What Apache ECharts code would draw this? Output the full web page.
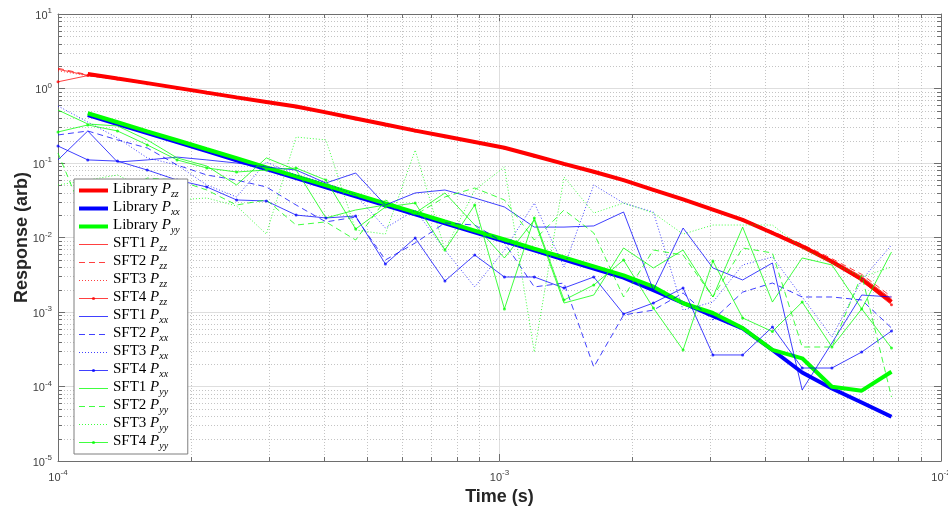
<!DOCTYPE html>
<html>
<head>
<meta charset="utf-8">
<script src="https://cdn.jsdelivr.net/npm/echarts@6/dist/echarts.min.js"></script>
<style>
html, body { margin: 0; padding: 0; background: #fff; }
#chart { width: 948px; height: 506px; }
</style>
</head>
<body>
<div id="chart"></div>
<script>
// sample times (s)
const times = [1.000e-4, 1.168e-4, 1.364e-4, 1.593e-4, 1.861e-4, 2.173e-4, 2.538e-4, 2.964e-4, 3.462e-4, 4.044e-4,
  4.723e-4, 5.515e-4, 6.442e-4, 7.523e-4, 8.788e-4, 1.026e-3, 1.199e-3, 1.400e-3, 1.635e-3, 1.910e-3,
  2.231e-3, 2.605e-3, 3.043e-3, 3.554e-3, 4.151e-3, 4.848e-3, 5.662e-3, 6.613e-3, 7.725e-3]

// library responses
const libZz = [null, 1.57, 1.36, 1.18, 1.02, 0.88, 0.76, 0.66, 0.573, 0.478, 0.396, 0.328, 0.272, 0.228, 0.191, 0.160,
  0.125, 0.0975, 0.0762, 0.0589, 0.0437, 0.0324, 0.0237, 0.0172, 0.0115, 0.0076, 0.00473, 0.00275, 0.00137]
const libXx = [null, 0.441, 0.333, 0.252, 0.191, 0.144, 0.109, 0.0826, 0.0625, 0.0473, 0.0357, 0.0270, 0.0205, 0.0155,
  0.0117, 0.00887, 0.00670, 0.00507, 0.00384, 0.00290, 0.00197, 0.00132, 0.000883, 0.000601, 0.000309, 0.000154,
  0.000094, 0.000061, 0.0000393]
const libYy = [null, 0.465, 0.352, 0.266, 0.202, 0.153, 0.116, 0.0875, 0.0662, 0.0501, 0.0379, 0.0287, 0.0217, 0.0164,
  0.0124, 0.0094, 0.0071, 0.0054, 0.0041, 0.0031, 0.00219, 0.00131, 0.00097, 0.00061, 0.00031, 0.000239,
  0.0000993, 0.0000879, 0.000158]

// SFT Pzz
const sft1Zz = [1.81, 1.50, 1.33, 1.16, 1.00, 0.87, 0.75, 0.65, 0.565, 0.472, 0.392, 0.325, 0.269, 0.226, 0.189, 0.158,
  0.124, 0.0968, 0.0757, 0.0585, 0.0436, 0.0325, 0.0240, 0.0176, 0.0119, 0.0079, 0.0050, 0.0030, 0.00150]
const sft2Zz = [1.87, 1.53, 1.35, 1.17, 1.01, 0.875, 0.755, 0.655, 0.568, 0.475, 0.393, 0.326, 0.270, 0.226, 0.190, 0.159,
  0.124, 0.0970, 0.0760, 0.0588, 0.0438, 0.0327, 0.0242, 0.0178, 0.0121, 0.0081, 0.0052, 0.0032, 0.00160]
const sft3Zz = [1.73, 1.48, 1.32, 1.15, 0.99, 0.86, 0.745, 0.648, 0.562, 0.470, 0.390, 0.323, 0.268, 0.224, 0.188, 0.157,
  0.123, 0.0962, 0.0752, 0.0582, 0.0433, 0.0322, 0.0238, 0.0174, 0.0117, 0.0078, 0.0049, 0.0028, 0.00140]
const sft4Zz = [1.23, 1.49, 1.34, 1.16, 1.00, 0.87, 0.75, 0.652, 0.566, 0.473, 0.391, 0.324, 0.269, 0.225, 0.189, 0.158,
  0.123, 0.0965, 0.0755, 0.0584, 0.0434, 0.0323, 0.0236, 0.0171, 0.0114, 0.0075, 0.0047, 0.0026, 0.00125]

// SFT Pxx
const sft1Xx = [0.110, 0.269, 0.103, 0.110, 0.120, 0.110, 0.100, 0.0883, 0.0805, 0.0539, 0.0734, 0.0273, 0.0396, 0.0434,
  0.0339, 0.0257, 0.0138, 0.0138, 0.0143, 0.0220, 0.00197, 0.0134, 0.00390, 0.00269, 0.00455, 0.0000898, 0.000384,
  0.00169, 0.00159]
const sft2Xx = [0.238, 0.269, 0.204, 0.159, 0.094, 0.069, 0.059, 0.0477, 0.0273, 0.0162, 0.0188, 0.00499, 0.00844, 0.0157,
  0.0147, 0.00844, 0.00217, 0.00245, 0.000183, 0.000912, 0.00106, 0.0018, 0.000782, 0.00185, 0.00245, 0.00159,
  0.00159, 0.00145, 0.00061]
const sft3Xx = [0.582, 0.355, 0.217, 0.117, 0.094, 0.0507, 0.0350, 0.103, 0.069, 0.0539, 0.0372, 0.0134, 0.0234, 0.00679,
  0.00217, 0.00679, 0.0290, 0.00402, 0.0507, 0.0290, 0.0220, 0.00106, 0.00136, 0.00428, 0.00547, 0.00159, 0.000461,
  0.00269, 0.00793]
const sft4Xx = [0.169, 0.110, 0.106, 0.0805, 0.059, 0.0477, 0.0319, 0.0309, 0.020, 0.0183, 0.0194, 0.00441, 0.00985,
  0.00261, 0.00582, 0.00295, 0.00295, 0.0021, 0.00295, 0.00094, 0.00132, 0.0021, 0.000265, 0.000265, 0.00063,
  0.000177, 0.000177, 0.00029, 0.000556]

// SFT Pyy
const sft1Yy = [0.514, 0.334, 0.314, 0.204, 0.117, 0.0911, 0.0507, 0.117, 0.0805, 0.0183, 0.0234, 0.0273, 0.0213, 0.0396,
  0.0147, 0.00531, 0.0172, 0.00132, 0.00169, 0.00723, 0.0039, 0.00679, 0.00159, 0.0138, 0.00136, 0.00531, 0.00428,
  0.0011, 0.00638]
const sft2Yy = [0.136, 0.0147, 0.0372, 0.0629, 0.059, 0.0434, 0.0273, 0.0319, 0.0147, 0.0162, 0.00925, 0.0319, 0.020,
  0.035, 0.0462, 0.0319, 0.00925, 0.0234, 0.0115, 0.00159, 0.00679, 0.00582, 0.00159, 0.00723, 0.0062, 0.000339,
  0.000339, 0.00314, 0.0000723]
const sft3Yy = [0.0507, 0.059, 0.069, 0.0434, 0.0319, 0.0339, 0.0265, 0.0111, 0.223, 0.204, 0.0126, 0.0111, 0.149,
  0.00679, 0.0434, 0.0883, 0.00029, 0.0649, 0.0213, 0.029, 0.0213, 0.0111, 0.0147, 0.0147, 0.0147, 0.00723, 0.00455,
  0.00295, 0.00402]
const sft4Yy = [0.261, 0.324, 0.269, 0.175, 0.110, 0.0857, 0.0757, 0.0805, 0.0857, 0.059, 0.0130, 0.0257, 0.029, 0.00679,
  0.0273, 0.0011, 0.0183, 0.00145, 0.0023, 0.00499, 0.00113, 0.000309, 0.00484, 0.000832, 0.000547, 0.00136,
  0.000339, 0.0011, 0.000329]

// minor grid positions
const minorX = [2e-4, 3e-4, 4e-4, 5e-4, 6e-4, 7e-4, 8e-4, 9e-4, 2e-3, 3e-3, 4e-3, 5e-3, 6e-3, 7e-3, 8e-3, 9e-3]
const minorY = [2e-5, 3e-5, 4e-5, 5e-5, 6e-5, 7e-5, 8e-5, 9e-5, 2e-4, 3e-4, 4e-4, 5e-4, 6e-4, 7e-4, 8e-4, 9e-4,
  2e-3, 3e-3, 4e-3, 5e-3, 6e-3, 7e-3, 8e-3, 9e-3, 0.02, 0.03, 0.04, 0.05, 0.06, 0.07, 0.08, 0.09,
  0.2, 0.3, 0.4, 0.5, 0.6, 0.7, 0.8, 0.9, 2, 3, 4, 5, 6, 7, 8, 9]

const RED = '#ff0000'
const BLUE = '#0000ff'
const GREEN = '#00ff00'

const lines = [
  { name: 'Library Pzz', data: libZz, color: RED, width: 4 },
  { name: 'Library Pxx', data: libXx, color: BLUE, width: 4 },
  { name: 'Library Pyy', data: libYy, color: GREEN, width: 4 },
  { name: 'SFT1 Pzz', data: sft1Zz, color: RED },
  { name: 'SFT2 Pzz', data: sft2Zz, color: RED, dash: [6, 4] },
  { name: 'SFT3 Pzz', data: sft3Zz, color: RED, dash: [1, 2] },
  { name: 'SFT4 Pzz', data: sft4Zz, color: RED, marker: true },
  { name: 'SFT1 Pxx', data: sft1Xx, color: BLUE },
  { name: 'SFT2 Pxx', data: sft2Xx, color: BLUE, dash: [6, 4] },
  { name: 'SFT3 Pxx', data: sft3Xx, color: BLUE, dash: [1, 2] },
  { name: 'SFT4 Pxx', data: sft4Xx, color: BLUE, marker: true },
  { name: 'SFT1 Pyy', data: sft1Yy, color: GREEN },
  { name: 'SFT2 Pyy', data: sft2Yy, color: GREEN, dash: [6, 4] },
  { name: 'SFT3 Pyy', data: sft3Yy, color: GREEN, dash: [1, 2] },
  { name: 'SFT4 Pyy', data: sft4Yy, color: GREEN, marker: true }
]

const axisFont = 'Liberation Sans, Arial, sans-serif'
const serif = 'Liberation Serif, Times New Roman, serif'

function powLabel(val) {
  const e = Math.round(Math.log10(val))
  return '{b|10}{s|' + e + '}'
}

const powRich = {
  b: { fontSize: 11, color: '#404040', fontFamily: axisFont, verticalAlign: 'bottom' },
  s: { fontSize: 8, color: '#404040', fontFamily: axisFont, verticalAlign: 'top', padding: [0, 0, 6, 0] }
}

// dotted minor grid + small inside ticks
function minorXItem(params, api) {
  const p0 = api.coord([api.value(0), 1e-5])
  const p1 = api.coord([api.value(0), 10])
  const x = Math.round(p0[0]) + 0.5
  return {
    type: 'group',
    children: [
      { type: 'line', shape: { x1: x, y1: p0[1], x2: x, y2: p1[1] }, style: { stroke: '#c4c4c4', lineWidth: 1, lineDash: [1, 2] } },
      { type: 'line', shape: { x1: x, y1: p0[1], x2: x, y2: p0[1] - 4 }, style: { stroke: '#6e6e6e', lineWidth: 1 } },
      { type: 'line', shape: { x1: x, y1: p1[1], x2: x, y2: p1[1] + 4 }, style: { stroke: '#6e6e6e', lineWidth: 1 } }
    ]
  }
}

function minorYItem(params, api) {
  const p0 = api.coord([1e-4, api.value(1)])
  const p1 = api.coord([1e-2, api.value(1)])
  const y = Math.round(p0[1]) + 0.5
  return {
    type: 'group',
    children: [
      { type: 'line', shape: { x1: p0[0], y1: y, x2: p1[0], y2: y }, style: { stroke: '#c4c4c4', lineWidth: 1, lineDash: [1, 2] } },
      { type: 'line', shape: { x1: p0[0], y1: y, x2: p0[0] + 4, y2: y }, style: { stroke: '#6e6e6e', lineWidth: 1 } },
      { type: 'line', shape: { x1: p1[0], y1: y, x2: p1[0] - 4, y2: y }, style: { stroke: '#6e6e6e', lineWidth: 1 } }
    ]
  }
}

const chart = echarts.init(document.getElementById('chart'))

const lineSeries = lines.map(l => ({
  name: l.name,
  type: 'line',
  data: times.map((t, i) => (l.data[i] == null ? null : [t, l.data[i]])).filter(d => d),
  symbol: l.marker ? 'circle' : 'none',
  symbolSize: 3,
  showSymbol: !!l.marker,
  itemStyle: { color: l.color, opacity: l.width ? 1 : 0.75 },
  lineStyle: {
    color: l.color,
    width: l.width || 1,
    type: l.dash || 'solid',
    opacity: l.width ? 1 : 0.75
  },
  emphasis: { disabled: true },
  z: 3
}))

const option = {
  animation: false,
  backgroundColor: '#fff',
  grid: { left: 58, right: 7, top: 14, bottom: 45, outerBoundsMode: 'none', containLabel: false },
  xAxis: [
    {
      type: 'log', min: 1e-4, max: 1e-2, logBase: 10,
      name: 'Time (s)', nameLocation: 'middle', nameGap: 27,
      nameTextStyle: { fontSize: 18, fontWeight: 'bold', color: '#262626', fontFamily: axisFont },
      axisLine: { lineStyle: { color: '#6e6e6e', width: 1 } },
      axisTick: { inside: true, length: 7, lineStyle: { color: '#6e6e6e' } },
      axisLabel: { formatter: powLabel, rich: powRich, margin: 8 },
      splitLine: { show: true, lineStyle: { color: '#dedede', width: 1 } }
    },
    {
      type: 'log', min: 1e-4, max: 1e-2, logBase: 10, position: 'top',
      axisLine: { lineStyle: { color: '#6e6e6e', width: 1 } },
      axisTick: { inside: true, length: 7, lineStyle: { color: '#6e6e6e' } },
      axisLabel: { show: false },
      splitLine: { show: false }
    }
  ],
  yAxis: [
    {
      type: 'log', min: 1e-5, max: 10, logBase: 10,
      name: 'Response (arb)', nameLocation: 'middle', nameGap: 27, nameMoveOverlap: false,
      nameTextStyle: { fontSize: 18, fontWeight: 'bold', color: '#262626', fontFamily: axisFont },
      axisLine: { lineStyle: { color: '#6e6e6e', width: 1 } },
      axisTick: { inside: true, length: 7, lineStyle: { color: '#6e6e6e' } },
      axisLabel: { formatter: powLabel, rich: powRich, margin: 6 },
      splitLine: { show: true, lineStyle: { color: '#dedede', width: 1 } }
    },
    {
      type: 'log', min: 1e-5, max: 10, logBase: 10, position: 'right',
      axisLine: { lineStyle: { color: '#6e6e6e', width: 1 } },
      axisTick: { inside: true, length: 7, lineStyle: { color: '#6e6e6e' } },
      axisLabel: { show: false },
      splitLine: { show: false }
    }
  ],
  legend: {
    orient: 'vertical',
    left: 74,
    top: 179,
    padding: [3, 8, 3, 3],
    itemGap: 1,
    itemWidth: 29,
    itemHeight: 4,
    backgroundColor: '#fff',
    borderColor: '#7f7f7f',
    borderWidth: 1,
    borderRadius: 0,
    data: lines.map(l => ({
      name: l.name,
      itemStyle: { opacity: l.marker ? 0.8 : 0 },
      lineStyle: { width: l.width || 1, opacity: l.width ? 1 : 0.75 }
    })),
    formatter: name => {
      const parts = name.split(' ')
      return '{n|' + parts[0] + ' }{i|P}{s|' + parts[1].slice(1) + '}'
    },
    textStyle: {
      rich: {
        n: { fontSize: 15, fontFamily: serif, color: '#000', verticalAlign: 'top' },
        i: { fontSize: 15, fontFamily: serif, fontStyle: 'italic', color: '#000', verticalAlign: 'top' },
        s: { fontSize: 10, fontFamily: serif, fontStyle: 'italic', color: '#000', verticalAlign: 'top', padding: [7, 0, 0, 0] }
      }
    }
  },
  series: [
    {
      type: 'custom', name: 'minorX', silent: true, z: 1,
      renderItem: minorXItem,
      data: minorX.map(v => [v, 1])
    },
    {
      type: 'custom', name: 'minorY', silent: true, z: 1,
      renderItem: minorYItem,
      data: minorY.map(v => [1e-3, v])
    }
  ].concat(lineSeries)
}

chart.setOption(option)
</script>
</body>
</html>
